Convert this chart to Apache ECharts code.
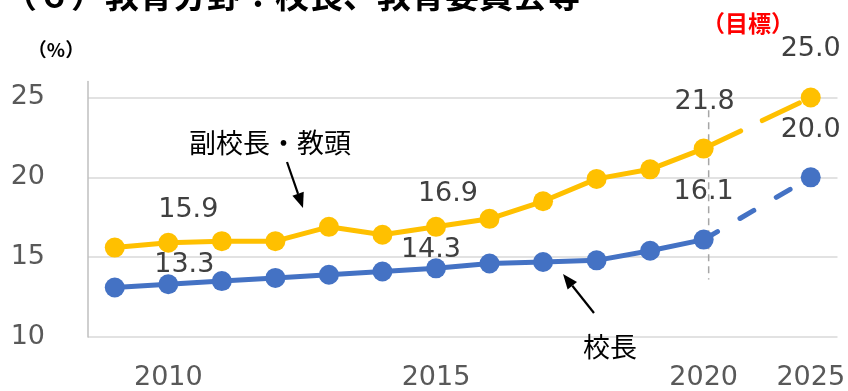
<!DOCTYPE html>
<html>
<head>
<meta charset="utf-8">
<script src="https://cdn.jsdelivr.net/npm/echarts@6/dist/echarts.min.js"></script>
<style>
  html, body { margin: 0; padding: 0; background: #ffffff; }
  #chart { width: 848px; height: 391px; }
</style>
</head>
<body>
<div id="chart"></div>
<script>
// Survey years on the category axis; one empty slot stands for the gap before the 2025 target.
const years = ['2009', '2010', '2011', '2012', '2013', '2014', '2015', '2016', '2017', '2018', '2019', '2020', '', '2025'];
// Share of women (%), 副校長・教頭
const viceValues = [15.6, 15.9, 16.0, 16.0, 16.9, 16.4, 16.9, 17.4, 18.5, 19.9, 20.5, 21.8];
// Share of women (%), 校長
const principalValues = [13.1, 13.3, 13.5, 13.7, 13.9, 14.1, 14.3, 14.6, 14.7, 14.8, 15.4, 16.1];
// 2025 targets (目標)
const viceTarget = 25.0;
const principalTarget = 20.0;
// Years that carry an axis label, and years whose values are printed
const tickYears = ['2010', '2015', '2020', '2025'];
const labelledYears = ['2010', '2015', '2020'];

const YELLOW = '#FFC000';
const BLUE = '#4472C4';
const NUM_FONT = 'DejaVu Sans';
const JP_FONT = '"Noto Sans CJK JP", "Noto Sans CJK SC", sans-serif';

// Label nudges (px) per series and year
const viceLabelOffset = { '2010': [20, -9], '2015': [12, -9], '2020': [1, -23], '2025': [0, -25] };
const principalLabelOffset = { '2010': [16, 4], '2015': [-5, 5], '2020': [0, -24], '2025': [0, -24] };

function labelStyle(offset) {
  return {
    show: true, position: 'top', distance: 0, offset: offset,
    fontFamily: NUM_FONT, fontSize: 27, color: '#404040',
    formatter: p => Number(p.value).toFixed(1)
  };
}

function actualData(values, offsets) {
  const out = years.map(() => null);
  values.forEach((v, i) => {
    const y = years[i];
    out[i] = labelledYears.includes(y) ? { value: v, label: labelStyle(offsets[y]) } : v;
  });
  return out;
}

function targetData(values, target, offsets) {
  const out = years.map(() => null);
  const last = values.length - 1;
  out[last] = { value: values[last], symbol: 'none' };
  out[years.indexOf('2025')] = { value: target, label: labelStyle(offsets['2025']) };
  return out;
}

const chart = echarts.init(document.getElementById('chart'), null, { renderer: 'canvas' });

const option = {
  animation: false,
  backgroundColor: '#ffffff',
  grid: { left: 88, right: 8, top: 81.5, bottom: 53.5, containLabel: false },
  xAxis: {
    type: 'category',
    data: years,
    boundaryGap: true,
    axisLine: { show: false },
    axisTick: { show: false },
    axisLabel: {
      interval: 0, margin: 27,
      fontFamily: NUM_FONT, fontSize: 27, color: '#595959',
      formatter: v => (tickYears.includes(v) ? v : '')
    },
    splitLine: { show: false }
  },
  yAxis: {
    type: 'value',
    min: 10, max: 26, interval: 5,
    axisLine: { show: true, lineStyle: { color: '#bfbfbf', width: 1.5 } },
    axisTick: { show: false },
    axisLabel: {
      showMaxLabel: false, margin: 43,
      fontFamily: NUM_FONT, fontSize: 27, color: '#595959',
      lineHeight: 27, padding: [0, 0, 8, 0], verticalAlign: 'middle'
    },
    splitLine: {
      show: true,
      lineStyle: { color: ['#d9d9d9', '#d9d9d9', '#d9d9d9', '#d9d9d9', 'rgba(0,0,0,0)'], width: 1.5 }
    }
  },
  series: [
    {
      name: '副校長・教頭（目標）', type: 'line', z: 1,
      data: targetData(viceValues, viceTarget, viceLabelOffset),
      connectNulls: true, symbol: 'circle', symbolSize: 20,
      itemStyle: { color: YELLOW },
      lineStyle: { color: YELLOW, width: 5, type: [41, 24], cap: 'round' }
    },
    {
      name: '校長（目標）', type: 'line', z: 1,
      data: targetData(principalValues, principalTarget, principalLabelOffset),
      connectNulls: true, symbol: 'circle', symbolSize: 20,
      itemStyle: { color: BLUE },
      lineStyle: { color: BLUE, width: 5, type: [16, 26], cap: 'round' }
    },
    {
      name: '副校長・教頭', type: 'line', z: 2,
      data: actualData(viceValues, viceLabelOffset),
      symbol: 'circle', symbolSize: 20,
      itemStyle: { color: YELLOW },
      lineStyle: { color: YELLOW, width: 5 }
    },
    {
      name: '校長', type: 'line', z: 2,
      data: actualData(principalValues, principalLabelOffset),
      symbol: 'circle', symbolSize: 20,
      itemStyle: { color: BLUE },
      lineStyle: { color: BLUE, width: 5 }
    }
  ]
};

chart.setOption(option);

// Arrow (shaft + filled head) pointing from (x1,y1) to (x2,y2)
function arrow(x1, y1, x2, y2) {
  const dx = x2 - x1, dy = y2 - y1;
  const len = Math.hypot(dx, dy);
  const ux = dx / len, uy = dy / len;
  const head = 15, half = 6;
  const bx = x2 - ux * head, by = y2 - uy * head;
  return [
    { type: 'line', shape: { x1: x1, y1: y1, x2: bx, y2: by }, style: { stroke: '#000', lineWidth: 2.2 } },
    { type: 'polygon', shape: { points: [[x2, y2], [bx - uy * half, by + ux * half], [bx + uy * half, by - ux * half]] }, style: { fill: '#000' } }
  ];
}

// Divider between actual figures and the target year
const top2020 = chart.convertToPixel({ xAxisIndex: 0, yAxisIndex: 0 }, ['2020', 24.2]);
const bottom2020 = chart.convertToPixel({ xAxisIndex: 0, yAxisIndex: 0 }, ['2020', 13.6]);

const graphics = [
  {
    type: 'text', left: 3, top: -22,
    style: { text: '（６）教育分野：校長、教育委員会等', font: 'bold 34px ' + JP_FONT, fill: '#000' }
  },
  {
    type: 'text', x: 56, y: 50,
    style: { text: '（%）', font: 'bold 19px ' + JP_FONT, fill: '#000', align: 'center', verticalAlign: 'middle' }
  },
  {
    type: 'text', x: 748, y: 23,
    style: { text: '（目標）', font: 'bold 23px ' + JP_FONT, fill: '#ff0000', align: 'center', verticalAlign: 'middle' }
  },
  {
    type: 'text', x: 270, y: 143,
    style: { text: '副校長・教頭', font: '27px ' + JP_FONT, fill: '#000', align: 'center', verticalAlign: 'middle' }
  },
  {
    type: 'text', x: 610, y: 347,
    style: { text: '校長', font: '27px ' + JP_FONT, fill: '#000', align: 'center', verticalAlign: 'middle' }
  },
  {
    type: 'line', z: 0,
    shape: { x1: top2020[0] + 5, y1: top2020[1], x2: bottom2020[0] + 5, y2: bottom2020[1] },
    style: { stroke: '#a6a6a6', lineWidth: 1.5, lineDash: [7, 5] }
  }
].concat(arrow(287, 162, 303, 208), arrow(594, 313, 563, 274));

chart.setOption({ graphic: graphics });
</script>
</body>
</html>
